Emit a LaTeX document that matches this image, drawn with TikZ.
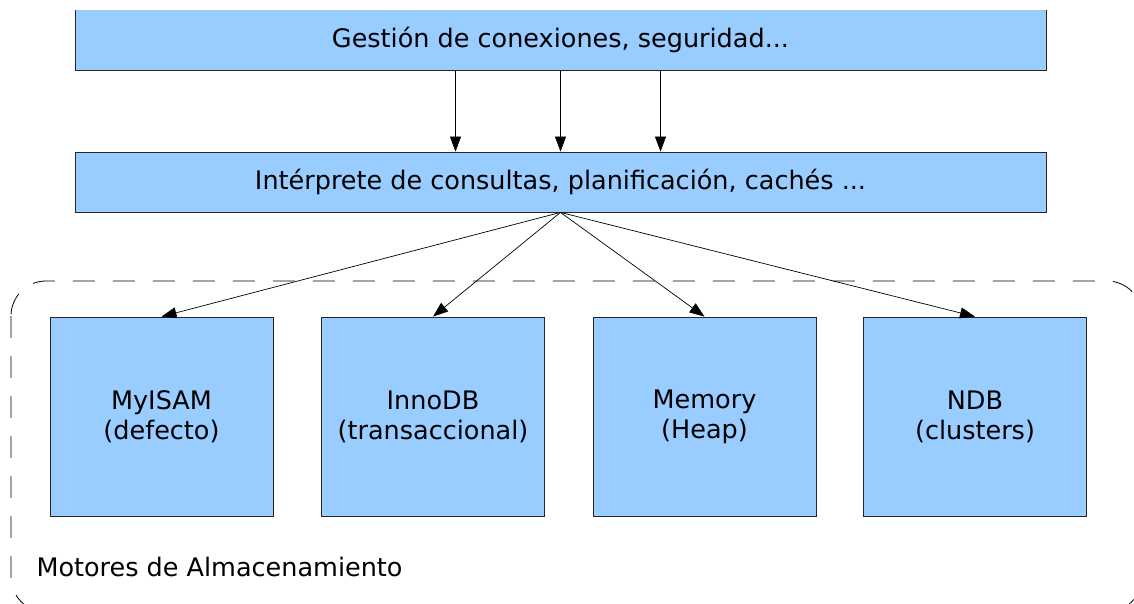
\documentclass[tikz,border=0pt]{standalone}
\usepackage{fontspec}
\setmainfont{DejaVu Sans}
\usetikzlibrary{positioning}
\usetikzlibrary{arrows.meta, calc}

\begin{document}
\begin{tikzpicture}
  [
    x=1pt, y=-1pt,
    >={Triangle[length=15pt,width=11pt]},
    every node/.style={font=\fontsize{25.5}{30}\selectfont},
    layer/.style  = {draw=black!85, fill=blueish, line width=0.8pt, minimum width=971pt, minimum height=60pt, inner sep=0pt},
    engine/.style = {draw=black!85, fill=blueish, line width=0.8pt, minimum width=223pt, minimum height=199pt, inner sep=0pt, align=center},
    link/.style   = {->, line width=0.7pt},
    group/.style  = {draw=black, line width=0.8pt, dash pattern=on 22pt off 18pt, rounded corners=35pt},
  ]
  \definecolor{blueish}{HTML}{99CCFF}

  \useasboundingbox (0,0) rectangle (1134,603);
  \clip (0,10) rectangle (1134,603);

  % the storage engines group
  \draw[group] (11,281) rectangle (1142,612);
  \node (motores) [anchor=base west] at (33,576) {Motores de Almacenamiento};

  % the layers (top one runs off the page)
  \node (gestion) at (560.5,37) [layer, minimum height=66pt] {\raisebox{-3pt}[\height][\depth]{Gestión de conexiones, seguridad...}};
  \node (interprete) at (560.5,182) [layer] {Intérprete de consultas, planificación, cachés ...};

  \node (myisam) at (161.5,416.5) [engine] {MyISAM\\(defecto)};
  \node (innodb) at (433,416.5)   [engine] {InnoDB\\(transaccional)};
  \node (memory) at (704.5,416.5) [engine] {Memory\\(Heap)};
  \node (ndb)    at (975,416.5)   [engine] {NDB\\(clusters)};

  \foreach \dx in {-105,0,100}
    \draw[link] ($(gestion.south)+(\dx,0)$) -- ($(interprete.north)+(\dx,0)$);

  \foreach \e in {myisam, innodb, memory, ndb}
    \draw[link] (interprete.south) -- (\e.north);

\end{tikzpicture}
\end{document}
